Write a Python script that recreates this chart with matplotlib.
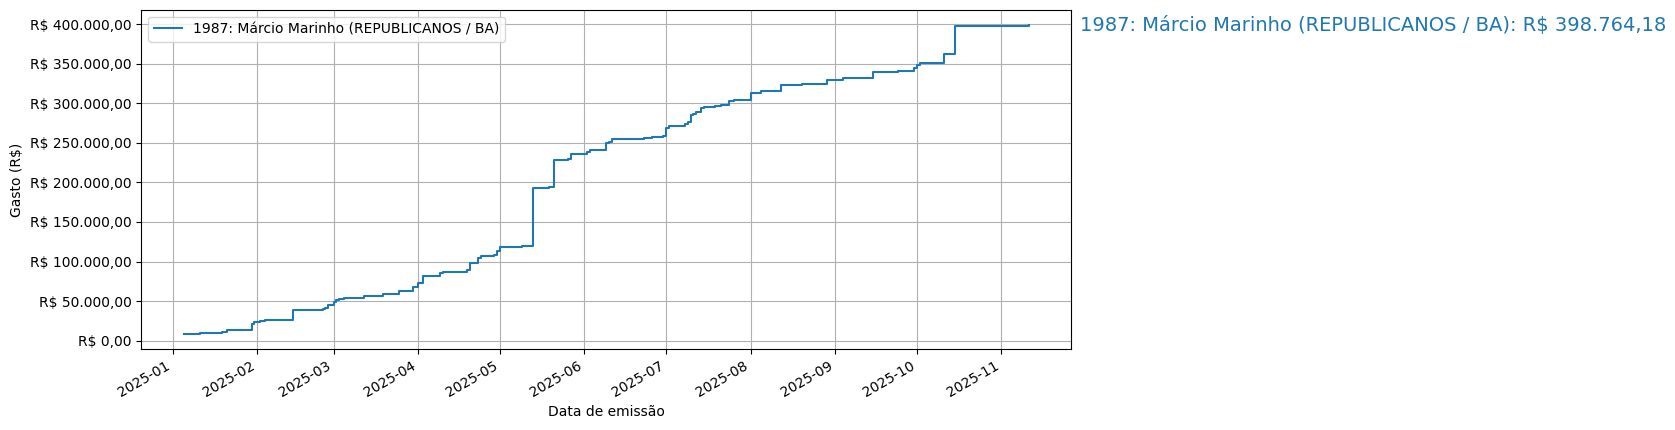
import matplotlib
matplotlib.use("Agg")
import matplotlib.pyplot as plt
import matplotlib.dates as mdates
from matplotlib.ticker import FuncFormatter
import numpy as np
import pandas as pd

deputado = "1987: Márcio Marinho (REPUBLICANOS / BA)"

# datas das notas e gasto acumulado (R$)
datas = [
    "2025-01-05", "2025-01-11", "2025-01-19", "2025-01-21", "2025-01-30",
    "2025-01-31", "2025-02-02", "2025-02-04", "2025-02-14", "2025-02-19",
    "2025-02-25", "2025-02-26", "2025-02-27", "2025-03-01", "2025-03-02",
    "2025-03-03", "2025-03-05", "2025-03-12", "2025-03-19", "2025-03-25",
    "2025-03-30", "2025-04-01", "2025-04-03", "2025-04-09", "2025-04-10",
    "2025-04-19", "2025-04-20", "2025-04-23", "2025-04-24", "2025-04-29",
    "2025-04-30", "2025-05-01", "2025-05-09", "2025-05-13", "2025-05-19",
    "2025-05-21", "2025-05-26", "2025-05-27", "2025-06-02", "2025-06-03",
    "2025-06-09", "2025-06-10", "2025-06-11", "2025-06-23", "2025-06-26",
    "2025-06-30", "2025-07-01", "2025-07-02", "2025-07-04", "2025-07-08",
    "2025-07-09", "2025-07-10", "2025-07-11", "2025-07-12", "2025-07-14",
    "2025-07-15", "2025-07-19", "2025-07-21", "2025-07-24", "2025-07-26",
    "2025-08-01", "2025-08-05", "2025-08-12", "2025-08-20", "2025-08-29",
    "2025-09-04", "2025-09-15", "2025-09-24", "2025-09-30", "2025-10-01",
    "2025-10-02", "2025-10-11", "2025-10-15", "2025-11-11",
]
gasto_acumulado = [
    8800, 9800, 11100, 14000, 21500,
    24000, 25300, 26600, 38300, 39000,
    39900, 41500, 45000, 48500, 51400,
    52600, 54300, 57000, 59200, 62300,
    68100, 72400, 81600, 85300, 87000,
    89000, 98700, 104300, 106500, 108100,
    113100, 118500, 119800, 192500, 193700,
    227700, 229900, 235300, 238500, 240600,
    249400, 251300, 254500, 255500, 257400,
    259200, 269300, 271400, 271800, 274000,
    275800, 285300, 286600, 288500, 294000,
    295000, 296900, 298400, 302300, 304400,
    312900, 314900, 323300, 324700, 329900,
    331400, 340000, 341300, 344200, 348600,
    351400, 361700, 398200, 398764.18,
]

datas = pd.to_datetime(datas)
total = gasto_acumulado[-1]


def brl(v, pos=None):
    s = f"{v:,.2f}"
    s = s.replace(",", "X").replace(".", ",").replace("X", ".")
    return f"R$ {s}"


fig = plt.figure(figsize=(16.75, 4.3), dpi=100)
ax = fig.add_axes([0.0844, 0.188, 0.5549, 0.7895])

ax.step(datas, gasto_acumulado, where="post", label=deputado)
ax.annotate(f"{deputado}: {brl(total)}", xy=(1.01, total),
            xycoords=("axes fraction", "data"), va="center", ha="left",
            fontsize=14, color="C0", annotation_clip=False)

ax.yaxis.set_major_formatter(FuncFormatter(brl))
ax.xaxis.set_major_locator(mdates.MonthLocator())
ax.xaxis.set_major_formatter(mdates.DateFormatter("%Y-%m"))
plt.setp(ax.get_xticklabels(), rotation=30, ha="right")

ax.set_xlabel("Data de emissão")
ax.set_ylabel("Gasto (R$)")
ax.grid(True)
ax.legend(loc="upper left")

fig.savefig("out.png", dpi=100)
